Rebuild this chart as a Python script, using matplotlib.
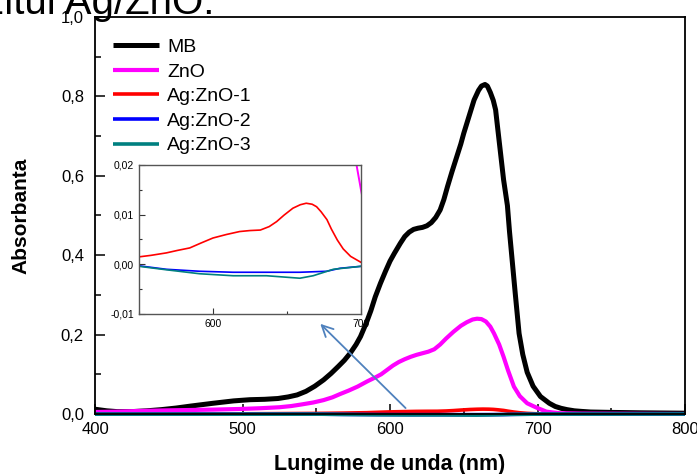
import matplotlib.pyplot as plt
from matplotlib.ticker import MultipleLocator, FuncFormatter

plt.rcParams['font.family'] = ['Liberation Sans', 'DejaVu Sans']

# MB (methylene blue) spectrum
mb_nm = [400, 408, 415, 425, 435, 445, 455, 465, 480, 494, 505, 515, 524, 531,
         537, 543, 549, 555, 560, 565, 569, 573, 577, 580, 584, 587, 590, 593.5,
         597, 600, 603, 607, 610, 613, 616, 619, 622, 625, 628, 631, 634, 636.5,
         639, 642, 645, 648, 650, 654, 657, 660, 662, 664.4, 666, 668, 670,
         671.6, 673, 675, 677, 679.6, 681, 683, 685, 687.5, 690, 693, 697, 702,
         708, 712, 716, 720, 725, 730, 736, 750, 770, 800]
mb_abs = [0.012, 0.008, 0.006, 0.006, 0.008, 0.011, 0.015, 0.020, 0.027, 0.033,
          0.036, 0.037, 0.039, 0.043, 0.048, 0.057, 0.07, 0.086, 0.102, 0.12,
          0.135, 0.153, 0.175, 0.195, 0.23, 0.26, 0.295, 0.329, 0.36, 0.385,
          0.405, 0.43, 0.447, 0.458, 0.465, 0.468, 0.47, 0.474, 0.482, 0.495,
          0.514, 0.54, 0.573, 0.61, 0.645, 0.68, 0.707, 0.755, 0.791, 0.815,
          0.826, 0.83, 0.826, 0.81, 0.79, 0.766, 0.72, 0.655, 0.59, 0.525, 0.46,
          0.38, 0.30, 0.203, 0.15, 0.105, 0.07, 0.044, 0.027, 0.019, 0.0143,
          0.011, 0.008, 0.0065, 0.005, 0.004, 0.003, 0.002]

# ZnO
zno_nm = [400, 415, 430, 447, 464, 480, 498, 512, 525, 533, 540, 548, 555, 561,
          566, 572, 578, 585, 590, 594, 598, 602, 606, 610, 614, 618, 622, 626,
          630, 634, 638, 643, 648, 652, 656, 659, 662, 665, 668, 670.5, 674, 677,
          680, 684, 688, 693, 697, 700, 706, 710, 715, 730, 800]
zno_abs = [0.005, 0.006, 0.0076, 0.009, 0.010, 0.011, 0.0126, 0.0145, 0.017,
           0.020, 0.024, 0.029, 0.035, 0.042, 0.05, 0.059, 0.069, 0.083, 0.092,
           0.100, 0.111, 0.122, 0.131, 0.138, 0.144, 0.149, 0.153, 0.157, 0.163,
           0.175, 0.19, 0.207, 0.222, 0.231, 0.238, 0.240, 0.239, 0.233, 0.22,
           0.203, 0.175, 0.144, 0.11, 0.069, 0.045, 0.027, 0.02, 0.015, 0.006,
           0.004, 0.002, 0.001, 0.0]

# Ag:ZnO-1
ag1_nm = [400, 450, 500, 550, 558, 568.5, 576, 584.3, 592, 600, 609, 618, 625,
          632, 638, 643, 648, 654, 659, 663, 667, 670, 673, 677, 680, 684, 688,
          693, 700, 720, 800]
ag1_abs = [0.0, 0.0, 0.0005, 0.0015, 0.0018, 0.0023, 0.0028, 0.0033, 0.0043,
           0.0053, 0.006, 0.0066, 0.0068, 0.0069, 0.0076, 0.0086, 0.0099,
           0.0113, 0.012, 0.0123, 0.0121, 0.0116, 0.0106, 0.009, 0.0071,
           0.0049, 0.0031, 0.0016, 0.0004, 0.0, 0.0]

# Ag:ZnO-2
ag2_nm = [400, 550, 568.5, 591, 613.6, 636.2, 658.7, 676.8, 685.8, 700, 800]
ag2_abs = [-0.0003, -0.0003, -0.001, -0.0014, -0.0016, -0.0016, -0.0016,
           -0.0014, -0.0008, -0.0004, 0.0]

# Ag:ZnO-3
ag3_nm = [400, 550, 568.5, 591, 613.6, 636.2, 649.7, 658.7, 667.7, 681.3, 700, 800]
ag3_abs = [-0.0004, -0.0004, -0.0011, -0.0019, -0.0023, -0.0023, -0.0026,
           -0.0028, -0.0023, -0.001, -0.0004, 0.0]

labels = ['MB', 'ZnO', 'Ag:ZnO-1', 'Ag:ZnO-2', 'Ag:ZnO-3']
colors = ['#000000', '#ff00ff', '#ff0000', '#0000ff', '#008080']
series = [(mb_nm, mb_abs), (zno_nm, zno_abs), (ag1_nm, ag1_abs),
          (ag2_nm, ag2_abs), (ag3_nm, ag3_abs)]
main_lw = [3.6, 3.0, 2.6, 2.6, 2.6]

comma = FuncFormatter(lambda v, p: ('%.1f' % v).replace('.', ','))
comma2 = FuncFormatter(lambda v, p: ('%.2f' % v).replace('.', ','))

fig = plt.figure(figsize=(6.97, 4.74), dpi=100)

# inset first so the main curves sit on top of it
axi = fig.add_axes([0.1994, 0.3376, 0.3185, 0.3143], zorder=1)
ax = fig.add_axes([0.1363, 0.1266, 0.8465, 0.8376], zorder=2)
ax.set_facecolor('none')

for (x, y), lab, c, lw in zip(series, labels, colors, main_lw):
    ax.plot(x, y, color=c, lw=lw, label=lab, clip_on=(lab in ['MB', 'ZnO']),
            solid_capstyle='butt', solid_joinstyle='round')

ax.set_xlim(400, 800)
ax.set_ylim(0, 1.0)
ax.xaxis.set_major_locator(MultipleLocator(100))
ax.xaxis.set_minor_locator(MultipleLocator(50))
ax.yaxis.set_major_locator(MultipleLocator(0.2))
ax.yaxis.set_minor_locator(MultipleLocator(0.1))
ax.yaxis.set_major_formatter(comma)
ax.tick_params(which='both', direction='in', labelsize=12, width=1.1)
ax.tick_params(which='major', length=7)
ax.tick_params(which='minor', length=4)
ax.tick_params(axis='y', pad=8)
ax.tick_params(axis='x', pad=6)
for s in ax.spines.values():
    s.set_linewidth(1.3)
ax.set_xlabel('Lungime de unda (nm)', fontsize=15.5, fontweight='bold', labelpad=12)
ax.set_ylabel('Absorbanta', fontsize=15, fontweight='bold', labelpad=22)

ax.legend(loc='upper left', bbox_to_anchor=(0.0, 0.99), frameon=False,
          fontsize=14, handlelength=2.4, handletextpad=0.4, labelspacing=0.36,
          borderaxespad=0.5)

# arrow pointing at the inset
ax.annotate('', xy=(551.4, 0.232), xytext=(611.9, 0.01),
            arrowprops=dict(arrowstyle='->', color='#4f81bd', lw=1.3,
                            mutation_scale=20))

# inset zoom of the Ag:ZnO curves
inset_lw = [1.2, 1.4, 1.2, 1.2, 1.2]
for (x, y), c, lw in zip(series, colors, inset_lw):
    axi.plot(x, y, color=c, lw=lw)
axi.set_xlim(550, 700)
axi.set_ylim(-0.01, 0.02)
axi.xaxis.set_major_locator(MultipleLocator(100))
axi.xaxis.set_minor_locator(MultipleLocator(50))
axi.yaxis.set_major_locator(MultipleLocator(0.01))
axi.yaxis.set_minor_locator(MultipleLocator(0.005))
axi.yaxis.set_major_formatter(comma2)
axi.tick_params(which='both', direction='in', labelsize=7.5, width=0.8,
                colors='#333333', labelcolor='black')
axi.tick_params(which='major', length=4)
axi.tick_params(which='minor', length=2.5)
for s in axi.spines.values():
    s.set_linewidth(1.0)
    s.set_color('#555555')

# cut-off caption from the page above
fig.text(214 / 697, 1 - 14 / 474, 'compozitul Ag/ZnO.', fontsize=29,
         ha='right', va='baseline')

fig.savefig('out.png', dpi=100, facecolor='white')
